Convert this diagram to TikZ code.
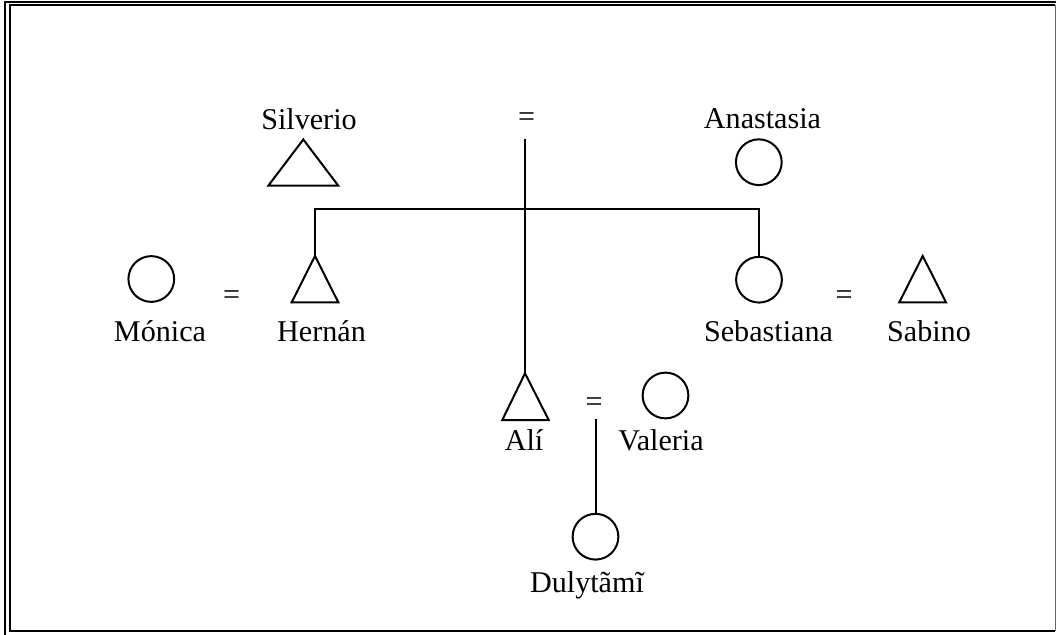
\documentclass[tikz,border=0pt]{standalone}
\usepackage{fontspec}
\setmainfont{Liberation Serif}
\begin{document}
\begin{tikzpicture}[x=0.75pt,y=-0.75pt,
  sym/.style={draw=black,line width=1.5pt,line join=miter},
  circ/.style={circle,draw=black,line width=1.5pt,minimum size=34.3pt,inner sep=0pt},
  lbl/.style={anchor=base,inner sep=0pt,font=\fontsize{22.6}{27}\selectfont},
  eqs/.style={anchor=center,inner sep=0pt,font=\fontsize{22.6}{27}\selectfont},
  conn/.style={draw=black,line width=1.5pt}]
\useasboundingbox (0,0) rectangle (1056,635);
% frame
\draw[line width=1.6pt] (4.6,640) -- (4.6,1.6) -- (1060,1.6);
\draw[line width=1.6pt] (1055.3,5.3) -- (10.2,5.3) -- (10.2,631) -- (1055.3,631);
\draw[line width=1.1pt,draw=black!60] (1055.3,5.3) -- (1055.3,631);
% generation 1
\node[lbl] (lsilverio) at (309,129) {Silverio};
\coordinate (silverio) at (303.3,139.5);
\draw[sym] (silverio) -- (268.3,185.7) -- (338.3,185.7) -- cycle;
\node[eqs] (eq1) at (526.5,120) {=};
\node[lbl] (lanastasia) at (762.5,128.3) {Anastasia};
\node[circ] (anastasia) at (758.8,162.2) {};
\coordinate (m1) at (525,139);
% generation 2
\node[circ] (monica) at (151.3,279) {};
\node[lbl] (lmonica) at (160,341.7) {Mónica};
\node[eqs] (eq2) at (231.5,298) {=};
\coordinate (hernan) at (315,256);
\draw[sym] (hernan) -- (291.7,302.3) -- (338.3,302.3) -- cycle;
\node[lbl] (lhernan) at (321.5,341.7) {Hernán};
\node[circ] (sebastiana) at (759,279.7) {};
\node[lbl] (lsebastiana) at (768.5,341.7) {Sebastiana};
\node[eqs] (eq3) at (844,298) {=};
\coordinate (sabino) at (922.7,256);
\draw[sym] (sabino) -- (899.3,302.3) -- (946,302.3) -- cycle;
\node[lbl] (lsabino) at (929,341.7) {Sabino};
% generation 3
\coordinate (ali) at (525,373.3);
\draw[sym] (ali) -- (502.3,420) -- (548.7,420) -- cycle;
\node[lbl] (lali) at (524,450.7) {Alí};
\node[eqs] (eq4) at (594,405) {=};
\node[circ] (valeria) at (665.5,395.5) {};
\node[lbl] (lvaleria) at (661,450.7) {Valeria};
\coordinate (m2) at (595.5,419);
% generation 4
\node[circ] (dulytami) at (595.5,536.7) {};
\node[lbl] (ldulytami) at (587,592) {Dulytãmĩ};
% connectors
\draw[conn] (m1) -- (ali);
\draw[conn] (hernan) -- ++(0,-47) -| (sebastiana.north);
\draw[conn] (m2) -- (dulytami.north);
\end{tikzpicture}
\end{document}
